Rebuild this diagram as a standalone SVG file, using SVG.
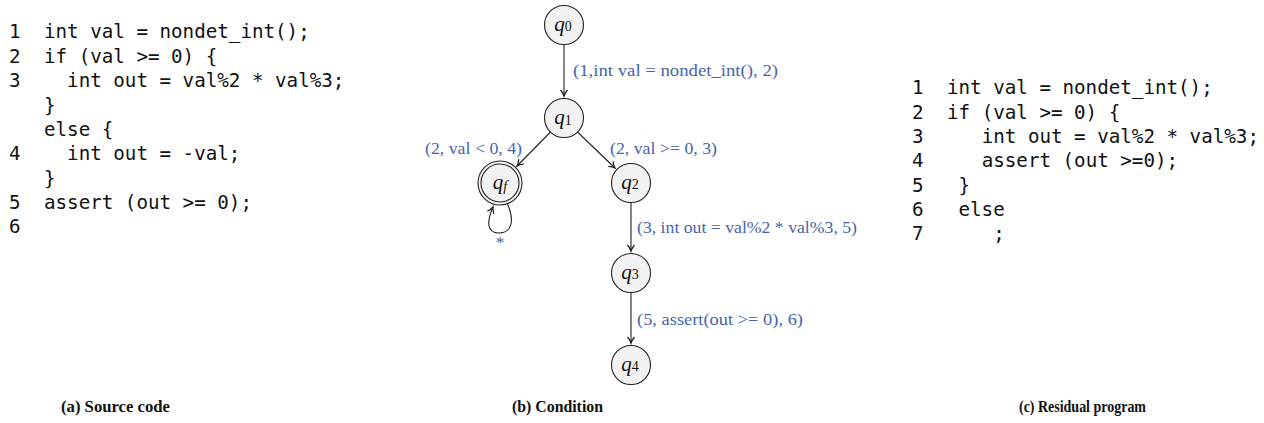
<svg xmlns="http://www.w3.org/2000/svg" width="1264" height="423" viewBox="0 0 1264 423">
<defs>
<style>
.code{font-family:"DejaVu Sans Mono","Liberation Mono",monospace;font-size:19.2px;fill:#111}
.node{fill:#f2f2f2;stroke:#222;stroke-width:1.1}
.ql{font-family:"Liberation Serif",serif;font-style:italic;font-size:21px;fill:#111}
.qs{font-style:normal;font-size:14px}
.lbl{font-family:"Liberation Serif",serif;font-size:17.5px;fill:#4565ad}
.edge{fill:none;stroke:#222;stroke-width:1.1}
.cap{font-family:"Liberation Serif",serif;font-weight:bold;font-size:17.5px;fill:#111}
</style>
<marker id="arr" markerWidth="10" markerHeight="10" refX="7" refY="4" orient="auto" markerUnits="userSpaceOnUse">
<path d="M1,0.5 Q4,3.2 7,4 Q4,4.8 1,7.5" fill="none" stroke="#222" stroke-width="1.3"/>
</marker>
</defs>
<rect width="1264" height="423" fill="#fff"/>

<g id="source-code">
<text class="code" x="9" y="38">1</text><text class="code" x="44" y="38">int val = nondet_int();</text>
<text class="code" x="9" y="62.5">2</text><text class="code" x="44" y="62.5">if (val &gt;= 0) {</text>
<text class="code" x="9" y="87">3</text><text class="code" x="67.1" y="87">int out = val%2 * val%3;</text>
<text class="code" x="44" y="111.5">}</text>
<text class="code" x="44" y="136">else {</text>
<text class="code" x="9" y="160">4</text><text class="code" x="67.1" y="160">int out = -val;</text>
<text class="code" x="44" y="184.5">}</text>
<text class="code" x="9" y="209">5</text><text class="code" x="44" y="209">assert (out &gt;= 0);</text>
<text class="code" x="9" y="233">6</text>
</g>

<g id="connectors">
<line class="edge" x1="564" y1="44.5" x2="564" y2="96" marker-end="url(#arr)"/>
<line class="edge" x1="550.5" y1="132" x2="517" y2="166" marker-end="url(#arr)"/>
<line class="edge" x1="577.5" y1="132" x2="615" y2="168" marker-end="url(#arr)"/>
<path class="edge" d="M507,203 C515,220 512,233 499,233 C486,233 487,221 493,207" marker-end="url(#arr)"/>
<line class="edge" x1="631" y1="202.5" x2="631" y2="251" marker-end="url(#arr)"/>
<line class="edge" x1="631" y1="292.5" x2="631" y2="343" marker-end="url(#arr)"/>
<text class="lbl" x="573" y="76" textLength="205" lengthAdjust="spacingAndGlyphs">(1,int val = nondet_int(), 2)</text>
<text class="lbl" x="425" y="154" textLength="97" lengthAdjust="spacingAndGlyphs">(2, val &lt; 0, 4)</text>
<text class="lbl" x="610" y="154" textLength="107" lengthAdjust="spacingAndGlyphs">(2, val &gt;= 0, 3)</text>
<text class="lbl" x="637" y="233" textLength="220" lengthAdjust="spacingAndGlyphs">(3, int out = val%2 * val%3, 5)</text>
<text class="lbl" x="637" y="325" textLength="166" lengthAdjust="spacingAndGlyphs">(5, assert(out &gt;= 0), 6)</text>
<text class="lbl" x="500" y="248" text-anchor="middle">*</text>
</g>

<g id="q0">
<circle class="node" cx="564" cy="25" r="19.5"/>
<text class="ql" x="563" y="31" text-anchor="middle">q<tspan class="qs" dy="0">0</tspan></text>
</g>
<g id="q1">
<circle class="node" cx="564" cy="118" r="19.5"/>
<text class="ql" x="563" y="124" text-anchor="middle">q<tspan class="qs" dy="1">1</tspan></text>
</g>
<g id="qf">
<circle class="node" cx="500" cy="183" r="22"/>
<circle class="node" cx="500" cy="183" r="19"/>
<text class="ql" x="500" y="189" text-anchor="middle">q<tspan class="qs" style="font-style:italic" dy="2">f</tspan></text>
</g>
<g id="q2">
<circle class="node" cx="631" cy="183" r="19.5"/>
<text class="ql" x="630" y="189" text-anchor="middle">q<tspan class="qs" dy="0">2</tspan></text>
</g>
<g id="q3">
<circle class="node" cx="631" cy="273" r="19.5"/>
<text class="ql" x="630" y="279" text-anchor="middle">q<tspan class="qs" dy="0">3</tspan></text>
</g>
<g id="q4">
<circle class="node" cx="631" cy="365" r="19.5"/>
<text class="ql" x="630" y="371" text-anchor="middle">q<tspan class="qs" dy="0">4</tspan></text>
</g>

<g id="residual-code">
<text class="code" x="912" y="94">1</text><text class="code" x="947" y="94">int val = nondet_int();</text>
<text class="code" x="912" y="118.5">2</text><text class="code" x="947" y="118.5">if (val &gt;= 0) {</text>
<text class="code" x="912" y="143">3</text><text class="code" x="981.7" y="143">int out = val%2 * val%3;</text>
<text class="code" x="912" y="167">4</text><text class="code" x="981.7" y="167">assert (out &gt;=0);</text>
<text class="code" x="912" y="191.5">5</text><text class="code" x="958.5" y="191.5">}</text>
<text class="code" x="912" y="216">6</text><text class="code" x="958.5" y="216">else</text>
<text class="code" x="912" y="240">7</text><text class="code" x="993.2" y="240">;</text>
</g>

<g id="captions">
<text class="cap" x="61" y="412" textLength="109" lengthAdjust="spacingAndGlyphs">(a) Source code</text>
<text class="cap" x="512" y="412" textLength="91" lengthAdjust="spacingAndGlyphs">(b) Condition</text>
<text class="cap" x="1019" y="412" textLength="127" lengthAdjust="spacingAndGlyphs">(c) Residual program</text>
</g>
</svg>
